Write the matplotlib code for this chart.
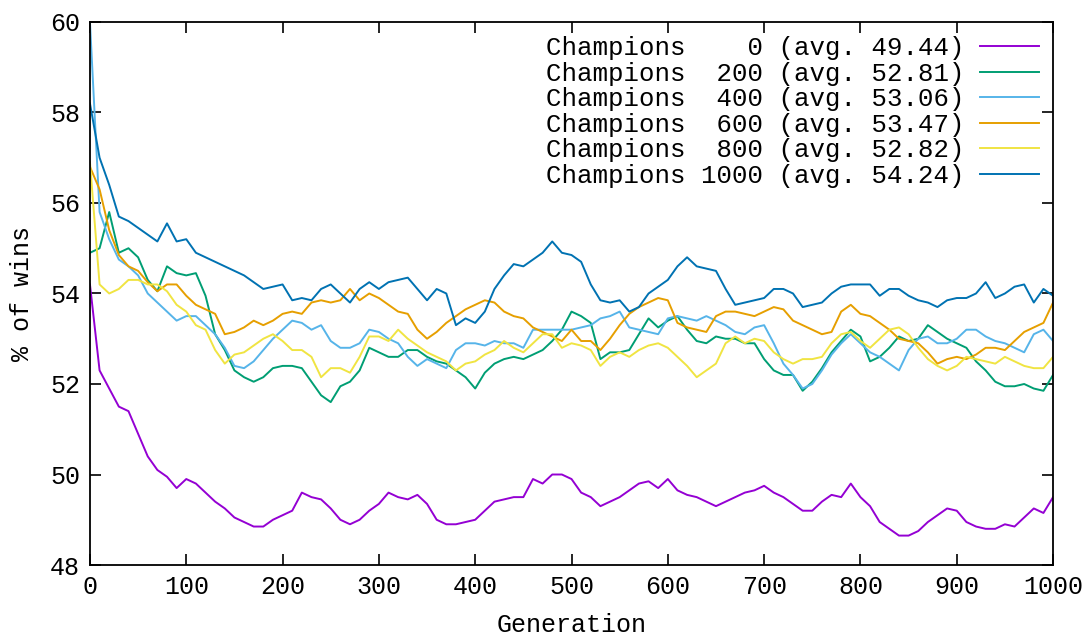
import numpy as np
import matplotlib
matplotlib.use("Agg")
import matplotlib.pyplot as plt

# generations sampled every 10
generation = np.arange(0, 1001, 10)

champ_0 = [54.2, 52.3, 51.9, 51.5, 51.4, 50.9, 50.4, 50.1, 49.95, 49.7,
           49.9, 49.8, 49.6, 49.4, 49.25, 49.05, 48.95, 48.85, 48.85, 49.0,
           49.1, 49.2, 49.6, 49.5, 49.45, 49.25, 49.0, 48.9, 49.0, 49.2,
           49.35, 49.6, 49.5, 49.45, 49.55, 49.35, 49.0, 48.9, 48.9, 48.95,
           49.0, 49.2, 49.4, 49.45, 49.5, 49.5, 49.9, 49.8, 50.0, 50.0,
           49.9, 49.6, 49.5, 49.3, 49.4, 49.5, 49.65, 49.8, 49.85, 49.7,
           49.9, 49.65, 49.55, 49.5, 49.4, 49.3, 49.4, 49.5, 49.6, 49.65,
           49.75, 49.6, 49.5, 49.35, 49.2, 49.2, 49.4, 49.55, 49.5, 49.8,
           49.5, 49.3, 48.95, 48.8, 48.65, 48.65, 48.75, 48.95, 49.1, 49.25,
           49.2, 48.95, 48.85, 48.8, 48.8, 48.9, 48.85, 49.05, 49.25, 49.15,
           49.5]

champ_200 = [54.9, 55.0, 55.8, 54.9, 55.0, 54.8, 54.3, 54.05, 54.6, 54.45,
             54.4, 54.45, 53.95, 53.1, 52.75, 52.3, 52.15, 52.05, 52.15, 52.35,
             52.4, 52.4, 52.35, 52.05, 51.75, 51.6, 51.95, 52.05, 52.3, 52.8,
             52.7, 52.6, 52.6, 52.75, 52.75, 52.6, 52.5, 52.45, 52.3, 52.15,
             51.9, 52.25, 52.45, 52.55, 52.6, 52.55, 52.65, 52.75, 52.95, 53.2,
             53.6, 53.5, 53.35, 52.55, 52.7, 52.7, 52.75, 53.1, 53.45, 53.25,
             53.4, 53.5, 53.2, 52.95, 52.9, 53.05, 53.0, 53.0, 52.9, 52.9,
             52.55, 52.3, 52.2, 52.2, 51.85, 52.05, 52.35, 52.7, 52.95, 53.2,
             53.05, 52.5, 52.6, 52.8, 53.05, 52.95, 53.0, 53.3, 53.15, 53.0,
             52.9, 52.8, 52.5, 52.3, 52.05, 51.95, 51.95, 52.0, 51.9, 51.85,
             52.2]

champ_400 = [60.0, 55.8, 55.2, 54.75, 54.6, 54.4, 54.0, 53.8, 53.6, 53.4,
             53.5, 53.5, 53.3, 53.1, 52.8, 52.4, 52.35, 52.5, 52.75, 53.0,
             53.2, 53.4, 53.35, 53.2, 53.3, 52.95, 52.8, 52.8, 52.9, 53.2,
             53.15, 53.0, 52.9, 52.6, 52.4, 52.55, 52.45, 52.35, 52.75, 52.9,
             52.9, 52.85, 52.95, 52.9, 52.9, 52.8, 53.2, 53.2, 53.2, 53.2,
             53.2, 53.25, 53.3, 53.45, 53.5, 53.6, 53.25, 53.2, 53.15, 53.1,
             53.45, 53.5, 53.45, 53.4, 53.5, 53.4, 53.3, 53.15, 53.1, 53.25,
             53.3, 52.9, 52.45, 52.2, 51.9, 52.0, 52.3, 52.65, 52.9, 53.1,
             52.9, 52.7, 52.6, 52.45, 52.3, 52.75, 53.0, 53.05, 52.9, 52.9,
             53.0, 53.2, 53.2, 53.05, 52.95, 52.9, 52.8, 52.7, 53.1, 53.2,
             52.95]

champ_600 = [56.8, 56.3, 55.4, 54.85, 54.6, 54.5, 54.25, 54.05, 54.2, 54.2,
             53.95, 53.75, 53.65, 53.55, 53.1, 53.15, 53.25, 53.4, 53.3, 53.4,
             53.55, 53.6, 53.55, 53.8, 53.85, 53.8, 53.85, 54.1, 53.85, 54.0,
             53.9, 53.75, 53.6, 53.55, 53.2, 53.0, 53.15, 53.35, 53.5, 53.65,
             53.75, 53.85, 53.8, 53.6, 53.5, 53.45, 53.25, 53.15, 53.05, 52.95,
             53.2, 52.95, 52.95, 52.75, 53.0, 53.3, 53.55, 53.7, 53.8, 53.9,
             53.85, 53.35, 53.25, 53.2, 53.15, 53.5, 53.6, 53.6, 53.55, 53.5,
             53.6, 53.7, 53.65, 53.4, 53.3, 53.2, 53.1, 53.15, 53.6, 53.75,
             53.55, 53.5, 53.35, 53.2, 53.0, 52.95, 52.9, 52.7, 52.45, 52.55,
             52.6, 52.55, 52.65, 52.8, 52.8, 52.75, 52.95, 53.15, 53.25, 53.35,
             53.8]

champ_800 = [56.9, 54.2, 54.0, 54.1, 54.3, 54.3, 54.2, 54.2, 54.05, 53.75,
             53.6, 53.3, 53.2, 52.75, 52.45, 52.65, 52.7, 52.85, 53.0, 53.1,
             52.95, 52.75, 52.75, 52.6, 52.15, 52.35, 52.35, 52.25, 52.6, 53.05,
             53.05, 52.95, 53.2, 53.0, 52.85, 52.7, 52.6, 52.5, 52.3, 52.45,
             52.5, 52.65, 52.75, 52.95, 52.8, 52.7, 52.9, 53.1, 53.1, 52.8,
             52.9, 52.85, 52.75, 52.4, 52.6, 52.7, 52.6, 52.75, 52.85, 52.9,
             52.8, 52.6, 52.4, 52.15, 52.3, 52.45, 52.9, 53.05, 52.9, 53.0,
             52.95, 52.7, 52.55, 52.45, 52.55, 52.55, 52.6, 52.9, 53.1, 53.15,
             52.95, 52.8, 53.0, 53.2, 53.25, 53.1, 52.8, 52.55, 52.4, 52.3,
             52.4, 52.6, 52.55, 52.5, 52.45, 52.6, 52.5, 52.4, 52.35, 52.35,
             52.6]

champ_1000 = [58.2, 57.0, 56.4, 55.7, 55.6, 55.45, 55.3, 55.15, 55.55, 55.15,
              55.2, 54.9, 54.8, 54.7, 54.6, 54.5, 54.4, 54.25, 54.1, 54.15,
              54.2, 53.85, 53.9, 53.85, 54.1, 54.2, 54.0, 53.8, 54.1, 54.25,
              54.1, 54.25, 54.3, 54.35, 54.1, 53.85, 54.1, 54.0, 53.3, 53.45,
              53.35, 53.6, 54.1, 54.4, 54.65, 54.6, 54.75, 54.9, 55.15, 54.9,
              54.85, 54.7, 54.2, 53.85, 53.8, 53.85, 53.6, 53.7, 54.0, 54.15,
              54.3, 54.6, 54.8, 54.6, 54.55, 54.5, 54.1, 53.75, 53.8, 53.85,
              53.9, 54.1, 54.1, 54.0, 53.7, 53.75, 53.8, 54.0, 54.15, 54.2,
              54.2, 54.2, 53.95, 54.1, 54.1, 53.95, 53.85, 53.8, 53.7, 53.85,
              53.9, 53.9, 54.0, 54.25, 53.9, 54.0, 54.15, 54.2, 53.8, 54.1,
              53.95]

champions = [0, 200, 400, 600, 800, 1000]
averages = [49.44, 52.81, 53.06, 53.47, 52.82, 54.24]
series = [champ_0, champ_200, champ_400, champ_600, champ_800, champ_1000]
colors = ["#9400d3", "#009e73", "#56b4e9", "#e69f00", "#f0e442", "#0072b2"]

plt.rcParams["font.family"] = ["Liberation Mono", "DejaVu Sans Mono"]
plt.rcParams["font.size"] = 18

fig = plt.figure(figsize=(10.89, 6.39), dpi=100)
ax = fig.add_axes([0.0826, 0.1158, 0.8844, 0.8498])

for n, avg, ys, c in zip(champions, averages, series, colors):
    ax.plot(generation, ys, color=c, lw=1.4,
            label=f"Champions {n:>4} (avg. {avg:.2f})")

ax.set_xlim(0, 1000)
ax.set_ylim(48, 60)
ax.set_xticks(np.arange(0, 1001, 100))
ax.set_yticks(np.arange(48, 61, 2))
ax.tick_params(direction="in", top=True, right=True, length=8, width=1.2, pad=7)
for s in ax.spines.values():
    s.set_linewidth(1.3)

ax.set_xlabel("Generation", labelpad=10)
ax.set_ylabel("% of wins", labelpad=12)

ax.legend(loc="upper right", frameon=False, markerfirst=False,
          handlelength=2.3, handletextpad=0.6, labelspacing=0.06,
          borderaxespad=0.25, borderpad=0.3, fontsize=18.5)

fig.savefig("out.png", dpi=100)
